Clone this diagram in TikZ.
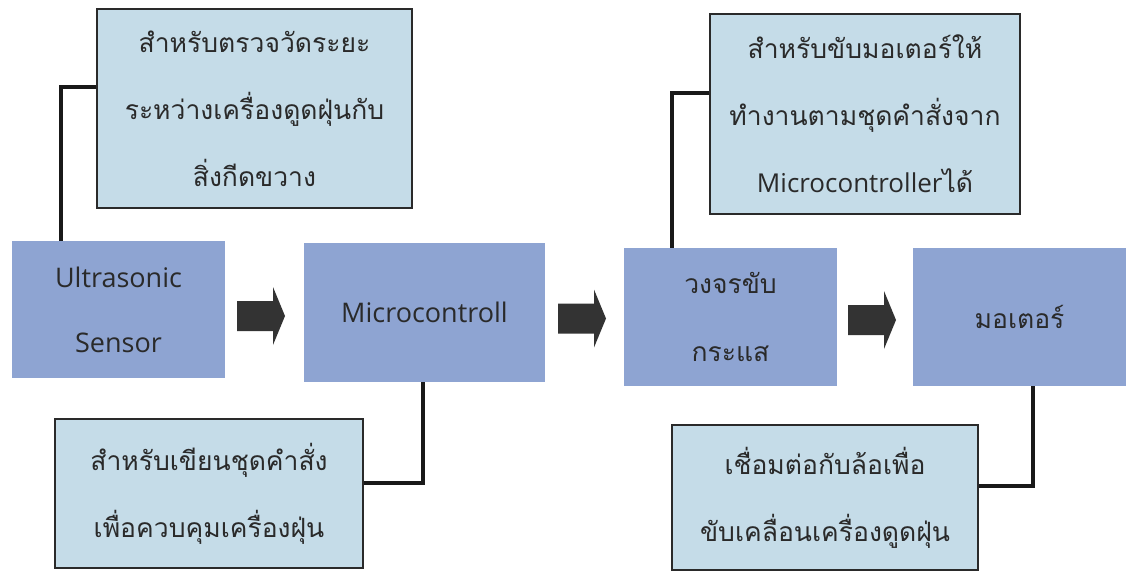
\documentclass[tikz,border=0pt]{standalone}
\usepackage{fontspec}
\newfontfamily\thaifont[Script=Thai]{Loma}
\newfontfamily\latfont{Open Sans}
\definecolor{descfill}{HTML}{C5DCE8}
\definecolor{mainfill}{HTML}{8EA4D2}
\definecolor{ink}{HTML}{2A2A2A}
\definecolor{arrowink}{HTML}{333333}
\begin{document}
\begin{tikzpicture}[x=1pt,y=-1pt,
  desc/.style={draw=ink, line width=1.6pt, fill=descfill, inner sep=0pt, align=center, text=ink,
    font=\thaifont\fontsize{26.5}{67}\selectfont},
  mainbox/.style={fill=mainfill, draw=none, inner sep=0pt, align=center, text=ink},
  lattext/.style={font=\latfont\fontsize{27}{65}\selectfont},
  thaitext/.style={font=\thaifont\fontsize{26.5}{68}\selectfont},
  blockarrow/.pic={\fill[arrowink] (0,-15) -- (36,-15) -- (36,-29) -- (48,0) -- (36,29) -- (36,15) -- (0,15) -- cycle;},
  conn/.style={draw=black!90, line width=3.2pt}]
\useasboundingbox (0,0) rectangle (1129,573);
\fill[white] (0,0) rectangle (1129,573);

% description boxes
\node[desc, minimum width=315pt, minimum height=199pt] (T1) at (254.5,108.5)
  {สำหรับตรวจวัดระยะ\\ระหว่างเครื่องดูดฝุ่นกับ\\สิ่งกีดขวาง};
\node[desc, minimum width=310pt, minimum height=200pt] (T2) at (865,114)
  {สำหรับขับมอเตอร์ให้\\ทำงานตามชุดคำสั่งจาก\\{\latfont\fontsize{26}{67}\selectfont Microcontroller}ได้};
\node[desc, minimum width=308pt, minimum height=149pt] (B1) at (209,493.5)
  {สำหรับเขียนชุดคำสั่ง\\เพื่อควบคุมเครื่องฝุ่น};
\node[desc, minimum width=306pt, minimum height=145pt] (B2) at (825,497.5)
  {เชื่อมต่อกับล้อเพื่อ\\ขับเคลื่อนเครื่องดูดฝุ่น};

% main boxes
\node[mainbox, lattext, minimum width=213pt, minimum height=137pt] (us) at (118.5,309.5)
  {Ultrasonic\\Sensor};
\node[mainbox, lattext, minimum width=241pt, minimum height=139pt] (mc) at (424.5,312.5)
  {Microcontroll};
\node[mainbox, thaitext, minimum width=213pt, minimum height=138pt] (dr) at (730.5,317)
  {วงจรขับ\\กระแส};
\node[mainbox, thaitext, minimum width=213pt, minimum height=138pt] (mo) at (1019.5,317)
  {มอเตอร์};

% block arrows
\pic at (237,316) {blockarrow};
\pic at (558,318.5) {blockarrow};
\pic at (848,320) {blockarrow};

% connectors
\coordinate (k1) at (61,87);
\coordinate (k2) at (672,93);
\coordinate (k3) at (423,483);
\coordinate (k4) at (1033,486);
\draw[conn] (T1.west |- k1) -| (us.north -| k1);
\draw[conn] (T2.west |- k2) -| (dr.north -| k2);
\draw[conn] (mc.south -| k3) |- (B1.east |- k3);
\draw[conn] (mo.south -| k4) |- (B2.east |- k4);
\end{tikzpicture}
\end{document}
